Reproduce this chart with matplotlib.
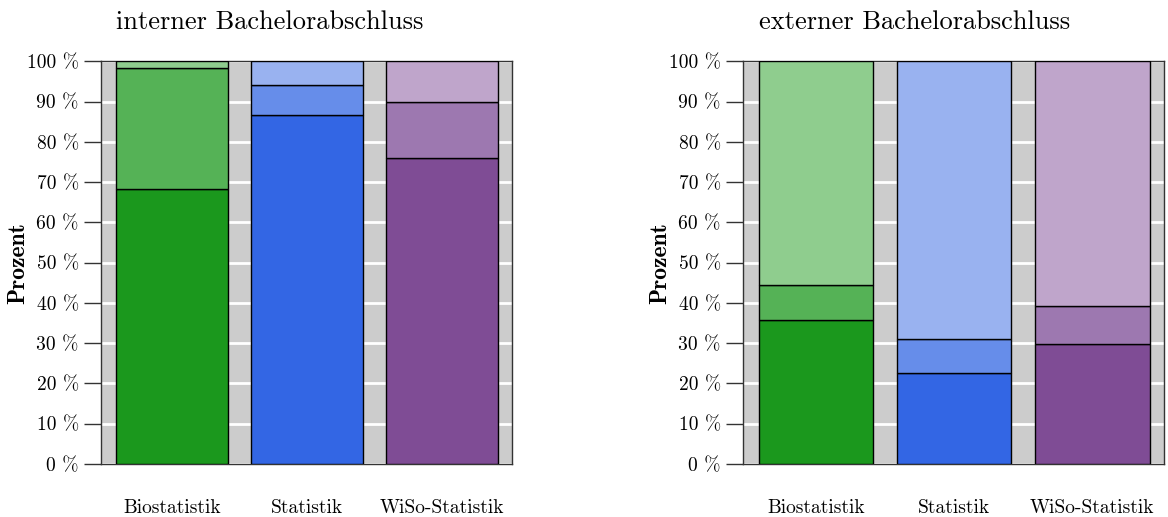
import numpy as np
import matplotlib
matplotlib.use("Agg")
import matplotlib.pyplot as plt

# Daten: Anteile je Studiengang (unten, mitte, oben) in Prozent
studiengaenge = ["Biostatistik", "Statistik", "WiSo-Statistik"]

intern_unten = [68.3, 86.7, 76.1]
intern_mitte = [30.0, 7.3, 13.7]
intern_oben = [1.7, 6.0, 10.2]

extern_unten = [35.7, 22.5, 29.7]
extern_mitte = [8.7, 8.5, 9.6]
extern_oben = [55.6, 69.0, 60.7]

titel = ["interner Bachelorabschluss", "externer Bachelorabschluss"]
yticks = np.arange(0, 101, 10)
ytick_labels = ["%d %%" % v for v in yticks]

# Farben je Studiengang (dunkel, mittel, hell)
farben = [
    ["#1b981d", "#55b256", "#8fcd8e"],
    ["#3366e4", "#668dea", "#99b2f0"],
    ["#7f4c95", "#9d78b0", "#bfa5cb"],
]

plt.rcParams["font.family"] = "cmr10"
plt.rcParams["axes.formatter.use_mathtext"] = True

fig = plt.figure(figsize=(11.68, 5.17), dpi=100)
achsen = [
    fig.add_axes([101 / 1168, 53 / 517, 411 / 1168, 402.7 / 517]),
    fig.add_axes([743 / 1168, 53 / 517, 421 / 1168, 402.7 / 517]),
]

daten = [
    (intern_unten, intern_mitte, intern_oben),
    (extern_unten, extern_mitte, extern_oben),
]

x = np.arange(len(studiengaenge))
breite = 0.83

for ax, (unten, mitte, oben), t in zip(achsen, daten, titel):
    ax.set_facecolor("#cccccc")
    for i in range(len(studiengaenge)):
        boden = 0
        for j, werte in enumerate([unten, mitte, oben]):
            ax.bar(x[i], werte[i], breite, bottom=boden, color=farben[i][j],
                   edgecolor="black", linewidth=1.0, zorder=3)
            boden += werte[i]
    ax.set_xlim(-0.53, 2.52)
    ax.set_ylim(0, 100)
    ax.set_yticks(yticks)
    ax.set_yticklabels(ytick_labels, fontsize=14)
    ax.set_xticks(x)
    ax.set_xticklabels(studiengaenge, fontsize=14)
    ax.tick_params(axis="x", length=0, pad=25)
    ax.tick_params(axis="y", length=12, width=1, pad=4, color="#333333")
    ax.yaxis.grid(True, color="white", linewidth=2, zorder=1)
    ax.set_axisbelow(True)
    for s in ax.spines.values():
        s.set_color("#333333")
        s.set_linewidth(1)
    ax.set_ylabel("Prozent", fontsize=17, family="cmb10")
    ax.yaxis.set_label_coords(-72 / ax.get_position().width / 1168, 0.5)
    ax.text(x[0] - breite / 2, 1.097, t, transform=ax.get_xaxis_transform(),
            fontsize=19, ha="left", va="center")

fig.savefig("out.png", dpi=100)
